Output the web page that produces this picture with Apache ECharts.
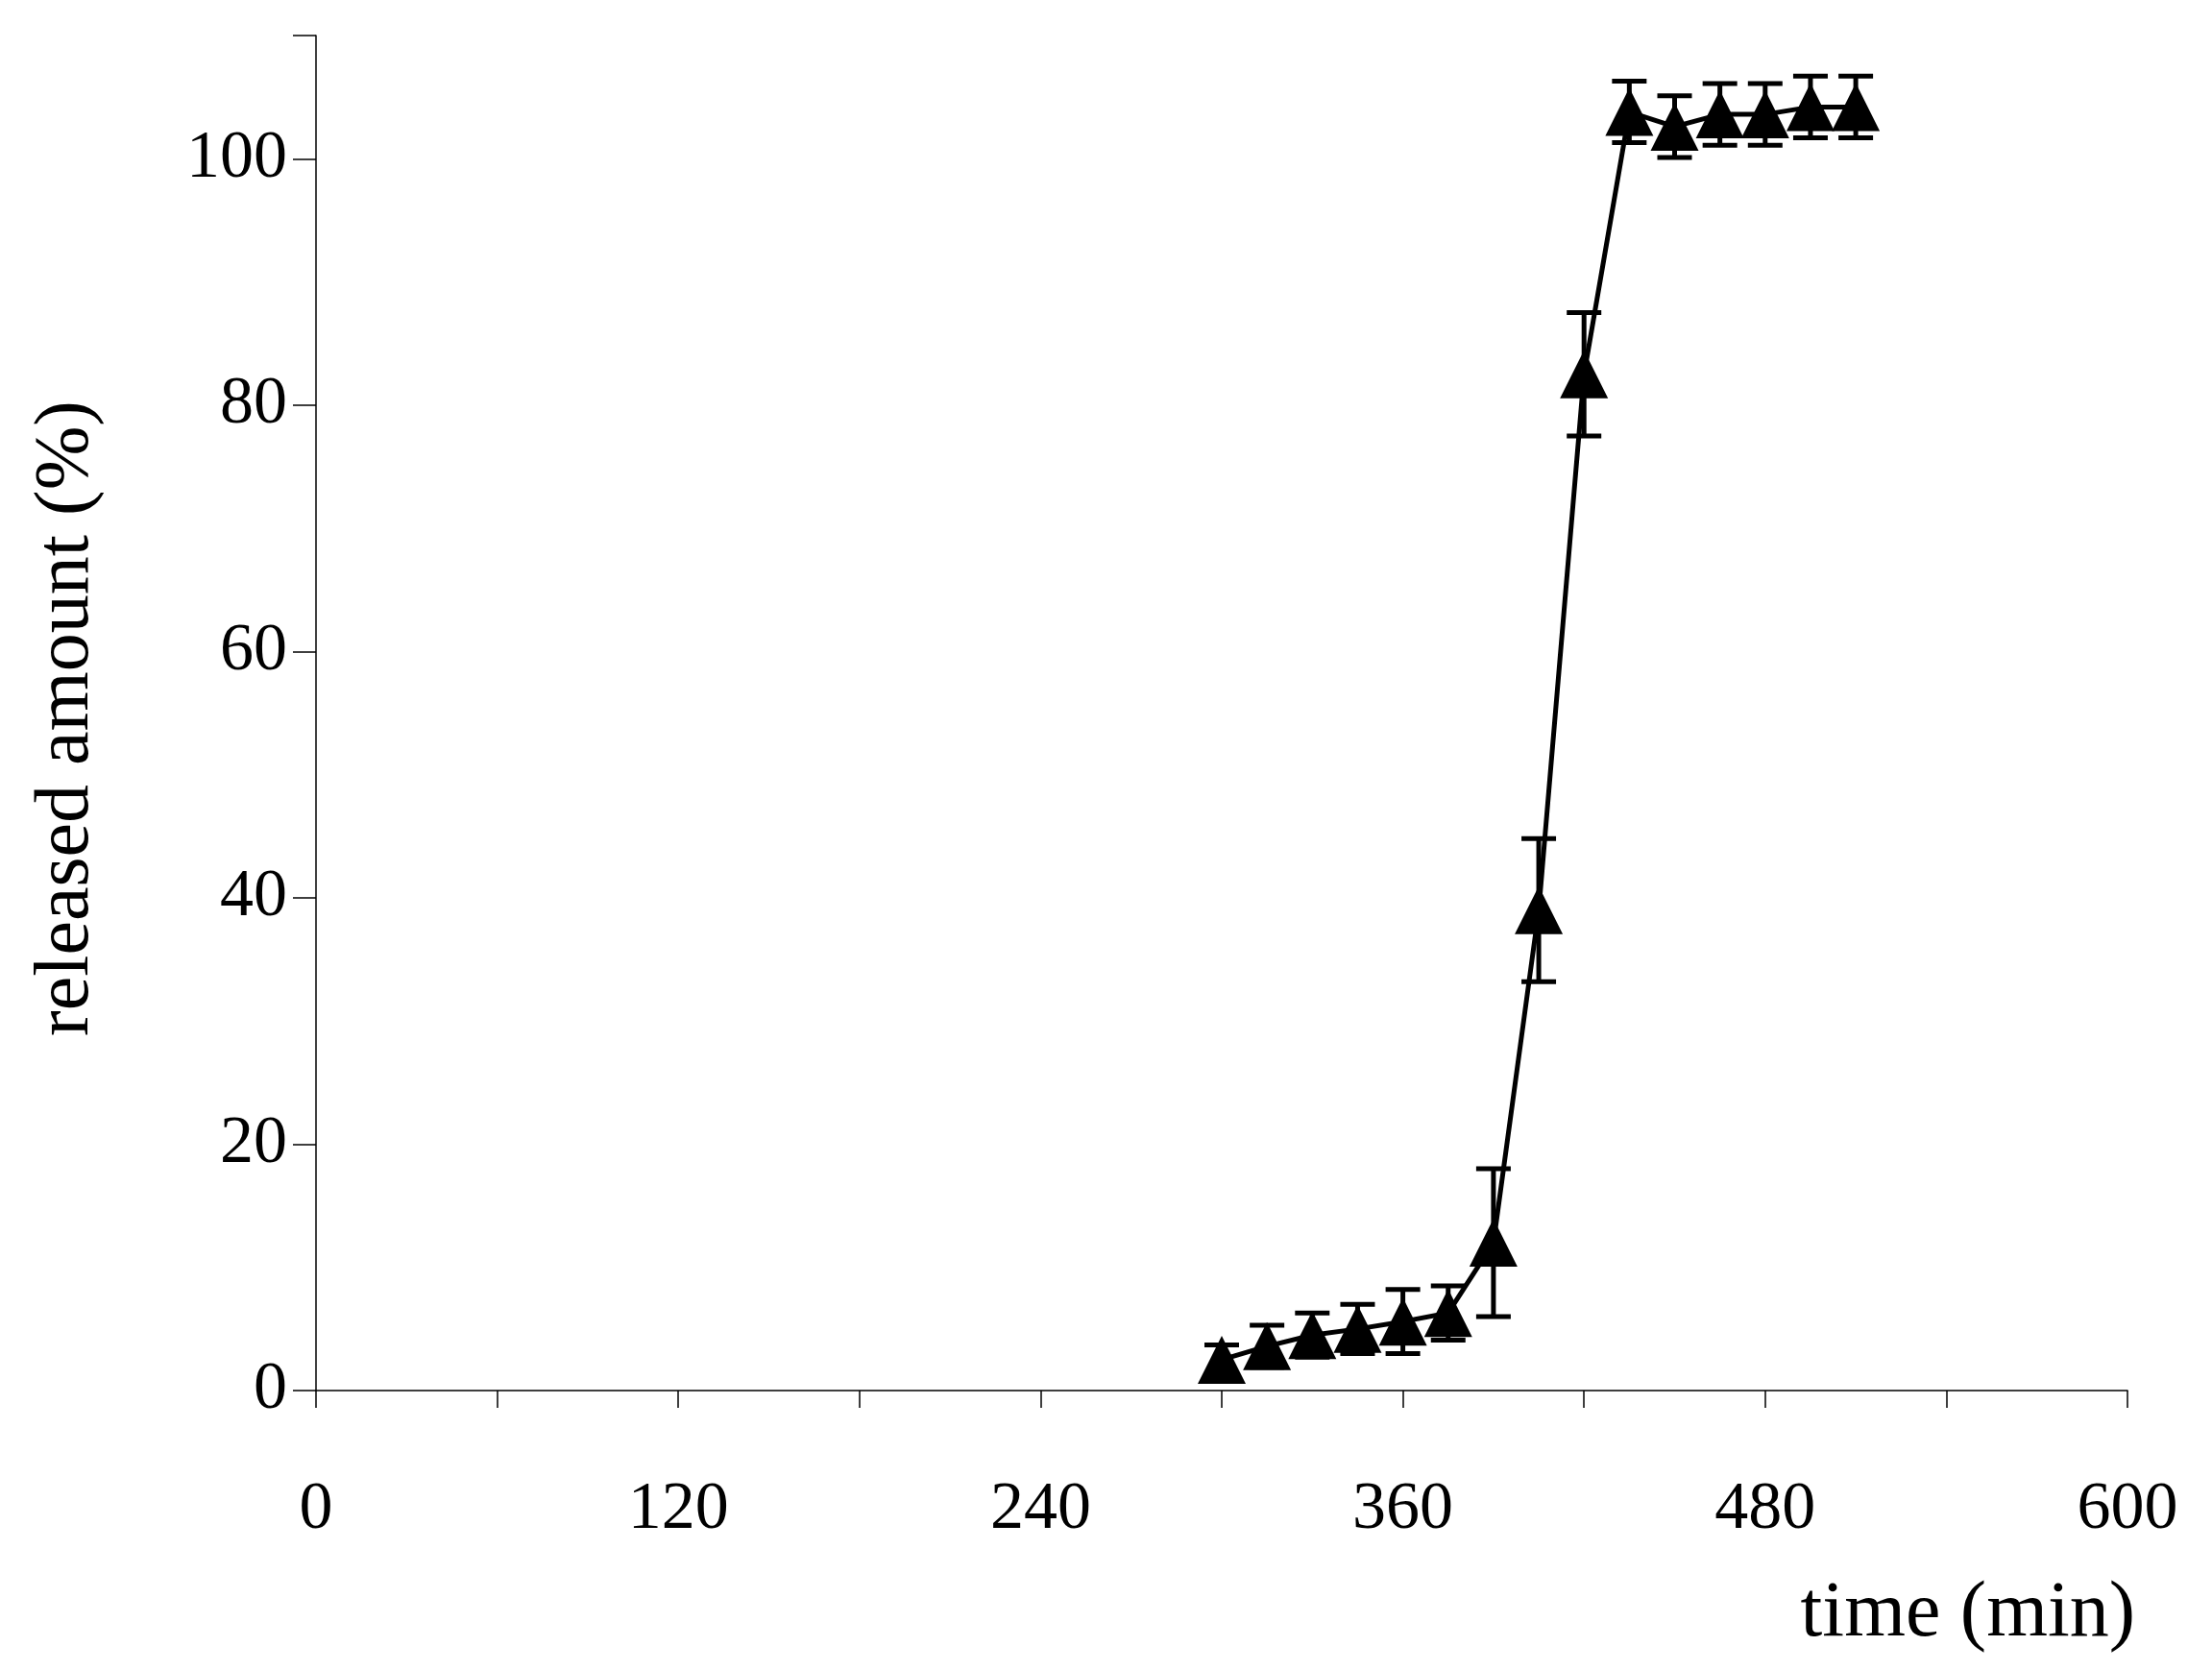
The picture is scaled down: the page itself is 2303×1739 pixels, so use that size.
<!DOCTYPE html>
<html>
<head>
<meta charset="utf-8">
<script src="https://cdn.jsdelivr.net/npm/echarts@6/dist/echarts.min.js"></script>
<style>html,body{margin:0;background:#fff}#main{width:2303px;height:1739px}</style>
</head>
<body>
<div id="main"></div>
<script>
var times = [300, 315, 330, 345, 360, 375, 390, 405, 420, 435, 450, 465, 480, 495, 510]
var released = [2.5, 3.6, 4.5, 5.0, 5.6, 6.3, 12, 39, 82.5, 103.8, 102.6, 103.6, 103.6, 104.2, 104.2]
var errors = [1.2, 1.7, 1.8, 2.0, 2.6, 2.2, 6.0, 5.8, 5.0, 2.5, 2.5, 2.5, 2.5, 2.5, 2.5]
var xTicks = [0, 120, 240, 360, 480, 600]

var font = 'Liberation Serif'
var chart = echarts.init(document.getElementById('main'))
var points = times.map(function (t, i) { return [t, released[i]] })
var bars = times.map(function (t, i) { return [t, released[i] - errors[i], released[i] + errors[i]] })

chart.setOption({
    backgroundColor: '#fff',
    animation: false,
    grid: { left: 329, right: 88, top: 37, bottom: 291 },
    xAxis: {
        type: 'value', min: 0, max: 600, interval: 60,
        axisLine: { lineStyle: { color: '#000', width: 1.5 } },
        axisTick: { length: 18, lineStyle: { color: '#000', width: 1.5 } },
        axisLabel: {
            margin: 90, fontFamily: font, fontSize: 70, color: '#000',
            formatter: function (v) { return xTicks.indexOf(v) >= 0 ? v : '' }
        },
        splitLine: { show: false }
    },
    yAxis: {
        type: 'value', min: 0, max: 110, interval: 20,
        axisLine: { show: true, lineStyle: { color: '#000', width: 1.5 } },
        axisTick: { show: true, length: 24, lineStyle: { color: '#000', width: 1.5 } },
        axisLabel: {
            margin: 30, fontFamily: font, fontSize: 70, color: '#000',
            formatter: function (v) { return v > 100 ? '' : v }
        },
        splitLine: { show: false }
    },
    graphic: [
        { type: 'text', x: 70, y: 748, rotation: Math.PI / 2,
          style: { text: 'released amount (%)', fontFamily: font, fontSize: 80, fill: '#000',
                   align: 'center', verticalAlign: 'middle' } },
        { type: 'text', right: 80, top: 1640,
          style: { text: 'time (min)', fontFamily: font, fontSize: 82, fill: '#000' } }
    ],
    series: [
        {
            type: 'custom',
            data: bars,
            z: 3,
            renderItem: function (params, api) {
                var lo = api.coord([api.value(0), api.value(1)])
                var hi = api.coord([api.value(0), api.value(2)])
                var w = 18
                var st = { stroke: '#000', lineWidth: 5 }
                return {
                    type: 'group',
                    children: [
                        { type: 'line', shape: { x1: lo[0], y1: lo[1], x2: hi[0], y2: hi[1] }, style: st },
                        { type: 'line', shape: { x1: lo[0] - w, y1: lo[1], x2: lo[0] + w, y2: lo[1] }, style: st },
                        { type: 'line', shape: { x1: hi[0] - w, y1: hi[1], x2: hi[0] + w, y2: hi[1] }, style: st }
                    ]
                }
            }
        },
        {
            type: 'line',
            data: points,
            z: 4,
            symbol: 'triangle',
            symbolSize: 50,
            itemStyle: { color: '#000' },
            lineStyle: { color: '#000', width: 5 }
        }
    ]
})
</script>
</body>
</html>
